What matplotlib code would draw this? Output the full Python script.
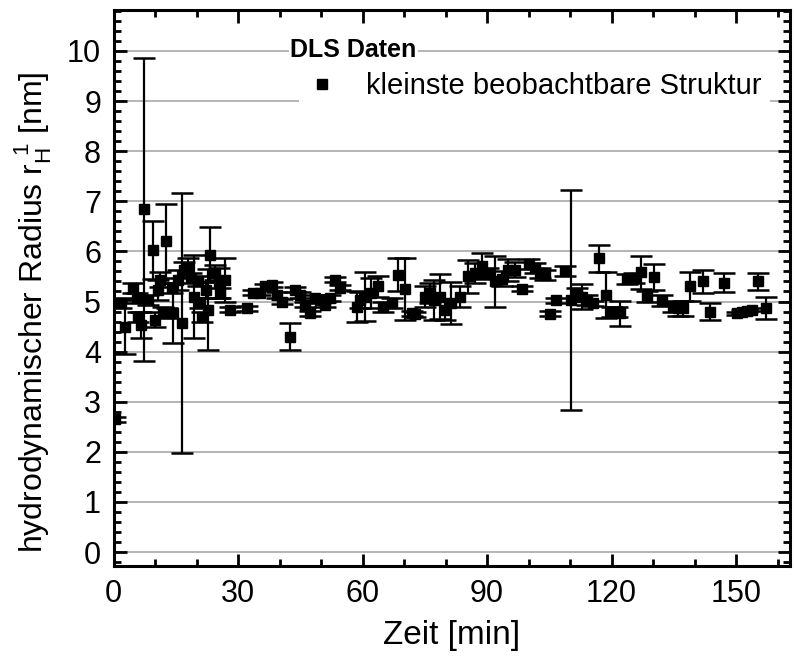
import numpy as np
import matplotlib
matplotlib.use("Agg")
import matplotlib.pyplot as plt
from matplotlib.ticker import MultipleLocator
from matplotlib.lines import Line2D

plt.rcParams['font.family'] = ['Liberation Sans', 'DejaVu Sans']

# Zeit [min], hydrodynamischer Radius [nm], Fehler [nm]
zeit = [0.4, 1.8, 2.8, 4.6, 5.6, 6.0, 6.6, 7.35, 8.4, 9.4, 10.0, 10.8, 11.2, 11.8,
        12.65, 12.8, 14.0, 14.4, 15.5, 16.6, 17.0, 18.0, 18.7, 19.5, 20.4, 20.8,
        21.2, 22.3, 22.8, 23.3, 24.5, 25.3, 25.7, 26.9, 28.1, 32.1, 33.7, 35.3,
        36.5, 38.1, 39.3, 40.5, 42.5, 43.7, 44.9, 46.1, 47.3, 48.6, 49.8, 51.0,
        52.2, 53.4, 54.5, 58.6, 59.4, 60.6, 62.0, 63.7, 65.0, 67.0, 68.5, 70.2,
        71.9, 72.6, 75.1, 76.3, 77.1, 78.7, 79.9, 81.3, 83.5, 85.5, 87.1, 88.7,
        90.3, 91.9, 93.5, 95.1, 96.7, 98.4, 100.2, 101.6, 102.8, 104.0, 105.2,
        106.6, 108.8, 110.2, 111.6, 112.8, 114.0, 115.6, 117.0, 118.6, 120.0,
        121.2, 122.0, 123.7, 125.3, 127.1, 128.5, 130.3, 132.1, 134.9, 136.1,
        137.3, 138.9, 142.0, 143.7, 147.1, 150.2, 151.4, 152.6, 153.8, 155.4, 157.2]
radius = [2.65, 4.97, 4.50, 5.27, 5.07, 4.70, 4.54, 6.84, 5.03, 6.03, 4.64, 5.23, 5.43, 4.80,
          6.20, 4.77, 5.27, 4.77, 5.43, 4.57, 5.63, 5.67, 5.47, 5.10, 5.40, 4.97,
          4.70, 5.23, 4.84, 5.93, 5.57, 5.37, 5.17, 5.43, 4.84, 4.87, 5.17, 5.17,
          5.30, 5.33, 5.13, 5.00, 4.30, 5.23, 5.13, 4.94, 4.77, 5.07, 5.03, 4.94,
          5.07, 5.43, 5.27, 4.90, 5.03, 5.10, 5.17, 5.30, 4.90, 4.97, 5.53, 5.25,
          4.77, 4.75, 5.10, 5.17, 5.03, 5.10, 4.84, 4.97, 5.10, 5.50, 5.57, 5.70,
          5.57, 5.40, 5.45, 5.63, 5.63, 5.25, 5.75, 5.67, 5.57, 5.53, 4.76,
          5.03, 5.60, 5.03, 5.17, 5.10, 5.03, 4.97, 5.86, 5.13, 4.80,
          4.80, 4.77, 5.45, 5.47, 5.58, 5.10, 5.49, 5.02, 4.90, 4.87,
          4.87, 5.30, 5.40, 4.80, 5.37, 4.77, 4.80, 4.82, 4.84, 5.40, 4.87]
fehler = [0.05, 0.10, 0.54, 0.10, 0.10, 0.10, 0.26, 3.02, 0.10, 0.58, 0.15, 0.20, 0.15, 0.10,
          0.74, 0.10, 0.10, 0.60, 0.20, 2.60, 0.15, 0.20, 0.10, 0.82, 0.10, 0.10,
          0.10, 0.15, 0.80, 0.55, 0.15, 0.30, 0.10, 0.44, 0.05, 0.05, 0.05, 0.05,
          0.05, 0.05, 0.05, 0.05, 0.27, 0.05, 0.05, 0.05, 0.05, 0.05, 0.05, 0.05,
          0.05, 0.05, 0.05, 0.30, 0.15, 0.48, 0.30, 0.20, 0.10, 0.10, 0.33, 0.62,
          0.05, 0.05, 0.20, 0.20, 0.40, 0.45, 0.20, 0.41, 0.20, 0.33, 0.20, 0.26,
          0.10, 0.50, 0.15, 0.22, 0.15, 0.05, 0.10, 0.10, 0.10, 0.10, 0.05,
          0.05, 0.10, 2.20, 0.10, 0.25, 0.10, 0.05, 0.27, 0.45, 0.10,
          0.10, 0.25, 0.10, 0.10, 0.33, 0.10, 0.26, 0.10, 0.10, 0.15,
          0.15, 0.29, 0.23, 0.17, 0.19, 0.03, 0.03, 0.03, 0.03, 0.17, 0.22]

fig = plt.figure(figsize=(7.94, 6.59), dpi=100)
ax = fig.add_axes([0.143, 0.141, 0.852, 0.844])

ax.errorbar(zeit, radius, yerr=fehler, fmt='s', color='black', ms=7.5,
            ecolor='black', elinewidth=1.6, capsize=8, capthick=1.8, zorder=3)

ax.set_xlim(0, 163)
ax.set_ylim(-0.28, 10.82)
ax.xaxis.set_major_locator(MultipleLocator(30))
ax.xaxis.set_minor_locator(MultipleLocator(10))
ax.yaxis.set_major_locator(MultipleLocator(1))
ax.yaxis.set_minor_locator(MultipleLocator(0.2))
ax.grid(axis='y', which='major', color='#a8a8a8', lw=1.2, zorder=0)

ax.tick_params(which='both', direction='in', top=True, right=True, width=2,
               labelsize=22, color='black')
ax.tick_params(which='major', length=9, pad=9)
ax.tick_params(which='minor', length=5)
for s in ax.spines.values():
    s.set_linewidth(2.2)

ax.set_xlabel('Zeit [min]', fontsize=24, labelpad=8)
ax.set_ylabel(r'hydrodynamischer Radius r$_\mathregular{H}^{\ \mathregular{1}}$ [nm]',
              fontsize=23)
ax.yaxis.set_label_coords(-0.09, 0.457)

ax.text(0.261, 0.928, 'DLS Daten', transform=ax.transAxes, fontsize=18,
        fontweight='bold', va='center', ha='left', zorder=5,
        bbox=dict(facecolor='white', edgecolor='none', pad=1))
handle = Line2D([], [], marker='s', ls='none', color='black', ms=7.5)
leg = ax.legend([handle], ['kleinste beobachtbare Struktur'], loc='center left',
                bbox_to_anchor=(0.274, 0.863), fontsize=21, frameon=True,
                fancybox=False, borderpad=0.3, handletextpad=1.0,
                handlelength=1.0, borderaxespad=0)
leg.get_frame().set_edgecolor('none')
leg.get_frame().set_facecolor('white')
leg.get_frame().set_alpha(1)

fig.savefig('out.png', dpi=100)
